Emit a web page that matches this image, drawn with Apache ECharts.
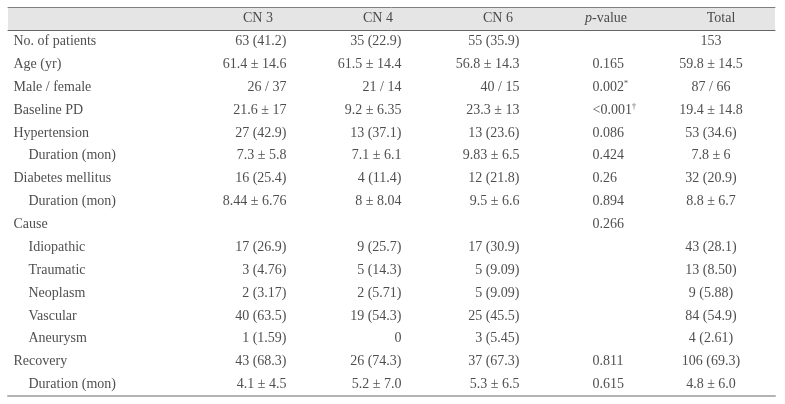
<!DOCTYPE html>
<html><head><meta charset="utf-8">
<script src="https://cdn.jsdelivr.net/npm/echarts@6/dist/echarts.min.js"></script>
<style>html,body{margin:0;padding:0;background:#fff}#c{width:785px;height:404px}</style>
</head><body><div id="c"></div>
<script>
// ---- data ----
const headers = ['CN 3', 'CN 4', 'CN 6', 'p-value', 'Total'];
const rowLabels = ['No. of patients','Age (yr)','Male / female','Baseline PD','Hypertension','Duration (mon)','Diabetes mellitus','Duration (mon)','Cause','Idiopathic','Traumatic','Neoplasm','Vascular','Aneurysm','Recovery','Duration (mon)'];
const rowIndent = [0,0,0,0,0,1,0,1,0,1,1,1,1,1,0,1];
const cn3 = ['63 (41.2)','61.4 ± 14.6','26 / 37','21.6 ± 17','27 (42.9)','7.3 ± 5.8','16 (25.4)','8.44 ± 6.76','','17 (26.9)','3 (4.76)','2 (3.17)','40 (63.5)','1 (1.59)','43 (68.3)','4.1 ± 4.5'];
const cn4 = ['35 (22.9)','61.5 ± 14.4','21 / 14','9.2 ± 6.35','13 (37.1)','7.1 ± 6.1','4 (11.4)','8 ± 8.04','','9 (25.7)','5 (14.3)','2 (5.71)','19 (54.3)','0','26 (74.3)','5.2 ± 7.0'];
const cn6 = ['55 (35.9)','56.8 ± 14.3','40 / 15','23.3 ± 13','13 (23.6)','9.83 ± 6.5','12 (21.8)','9.5 ± 6.6','','17 (30.9)','5 (9.09)','5 (9.09)','25 (45.5)','3 (5.45)','37 (67.3)','5.3 ± 6.5'];
const pValues = ['','0.165','0.002*','<0.001†','0.086','0.424','0.26','0.894','0.266','','','','','','0.811','0.615'];
const total = ['153','59.8 ± 14.5','87 / 66','19.4 ± 14.8','53 (34.6)','7.8 ± 6','32 (20.9)','8.8 ± 6.7','','43 (28.1)','13 (8.50)','9 (5.88)','84 (54.9)','4 (2.61)','106 (69.3)','4.8 ± 6.0'];

// ---- layout (table units along the x axis, grid starts at 8px) ----
const W = 767;
const labelX = 5, indentW = 15;
const headerX = [250, 370, 490, 598, 713];
const colAnchor = [279, 394, 512, 584, 703];
const colPos = ['left', 'left', 'left', 'right', 'inside']; // label position relative to anchor
const FONT = 'Liberation Serif';
const FS = 14;
const TXT = '#222';

function fmt(s) {
  const m = s.match(/^(.*?)([*†])$/);
  if (m) return m[1] + '{sup|' + m[2] + '}';
  if (s === 'p-value') return '{it|p}-value';
  return s;
}
const rich = {
  sup: { fontFamily: FONT, fontSize: 8, color: TXT, verticalAlign: 'top', padding: [0, 0, 7, 0] },
  it: { fontFamily: FONT, fontSize: FS, color: TXT, fontStyle: 'italic' }
};
function textSeries(name, xAxisIndex, yAxisIndex, data, position) {
  return {
    name, type: 'scatter', xAxisIndex, yAxisIndex, symbolSize: 1,
    itemStyle: { color: 'rgba(0,0,0,0)' }, silent: true,
    data,
    label: {
      show: true, position, distance: 0,
      formatter: p => fmt(p.data.text),
      fontFamily: FONT, fontSize: FS, color: TXT, rich
    }
  };
}

const rowCats = rowLabels.map((_, i) => 'r' + i);
const series = [];
series.push(textSeries('header', 0, 0, headers.map((h, i) => ({ value: [headerX[i], 'h'], text: h })), 'inside'));
series.push(textSeries('labels', 2, 1, rowLabels.map((l, i) => ({ value: [labelX + rowIndent[i] * indentW, rowCats[i]], text: l })), 'right'));
[cn3, cn4, cn6, pValues, total].forEach((col, c) => {
  const d = col.map((t, i) => ({ value: [colAnchor[c], rowCats[i]], text: t })).filter(o => o.text !== '');
  series.push(textSeries(headers[c], 2, 1, d, colPos[c]));
});

const hiddenAx = { show: true, axisLabel: { show: false }, axisTick: { show: false }, splitLine: { show: false } };
const option = {
  animation: false,
  grid: [
    { left: 8, right: 10, top: 7, height: 23, show: true, backgroundColor: '#e5e5e5', borderWidth: 0 },
    { left: 8, right: 10, top: 30, bottom: 8 }
  ],
  xAxis: [
    Object.assign({ type: 'value', gridIndex: 0, min: 0, max: W, position: 'top', axisLine: { show: true, onZero: false, lineStyle: { color: '#808080', width: 1 } } }, hiddenAx),
    Object.assign({ type: 'value', gridIndex: 0, min: 0, max: W, position: 'bottom', axisLine: { show: true, onZero: false, lineStyle: { color: '#666', width: 1 } } }, hiddenAx),
    Object.assign({ type: 'value', gridIndex: 1, min: 0, max: W, position: 'bottom', axisLine: { show: true, onZero: false, lineStyle: { color: '#b3b3b3', width: 2 } } }, hiddenAx)
  ],
  yAxis: [
    { type: 'category', gridIndex: 0, data: ['h'], show: false },
    { type: 'category', gridIndex: 1, data: rowCats, inverse: true, show: false }
  ],
  series
};
echarts.init(document.getElementById('c')).setOption(option);
</script></body></html>
